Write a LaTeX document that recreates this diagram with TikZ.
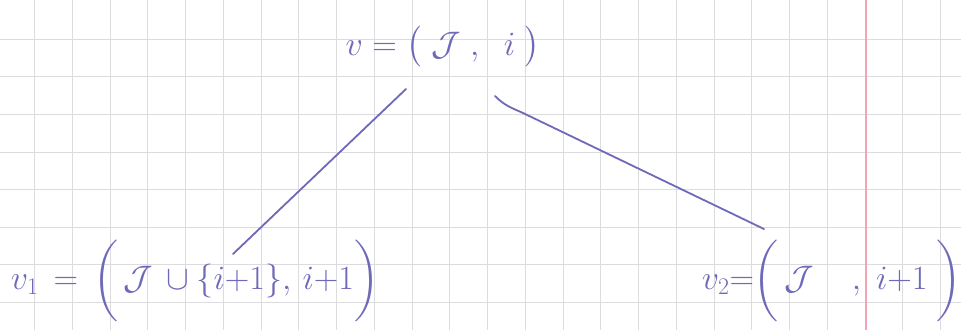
\RequirePackage{fix-cm}
\documentclass[tikz,border=0pt]{standalone}
\usepackage{amsmath,amssymb}
\definecolor{ink}{HTML}{6E69B8}
\definecolor{gridc}{HTML}{DCDCDE}
\definecolor{margin}{HTML}{F2A3B6}
\begin{document}
\begin{tikzpicture}[x=1pt,y=-1pt,
  hand/.style={text=ink,inner sep=0pt,font=\fontsize{34}{40}\selectfont},
  edge/.style={draw=ink,line width=1.8pt,line cap=round}]
\useasboundingbox (0,0) rectangle (961,330);
\fill[white] (0,0) rectangle (961,330);
% graph paper
\foreach \k in {0,...,24} \draw[gridc,line width=1pt] ({34.7+37.75*\k},0) -- ({34.7+37.75*\k},330);
\foreach \k in {0,...,7} \draw[gridc,line width=1pt] (0,{39.3+37.6*\k}) -- (961,{39.3+37.6*\k});
\draw[margin,line width=2.6pt] (866,0) -- (866,330);
% labels
\node[hand] (top) at (443,47) {$v = \big(\;\mathcal{J}\;,\;\; i\;\big)$};
\node[hand] (left) at (195,281) {$v_1 \,=\, \bigg(\,\mathcal{J}\,\cup\{i{+}1\},\,i{+}1\bigg)$};
\node[hand] (right) at (832,281) {$v_2 {=} \bigg(\,\mathcal{J}\;\;\;\;,\; i{+}1\;\bigg)$};
% connectors
\coordinate (a1) at (406,89);
\coordinate (a2) at (233,254);
\coordinate (b1) at (495,96);
\coordinate (b2) at (764,229);
\draw[edge] (a1) -- (a2);
\draw[edge] (b1) .. controls (505,106) and (512,108) .. (523,113) -- (b2);
\end{tikzpicture}
\end{document}
